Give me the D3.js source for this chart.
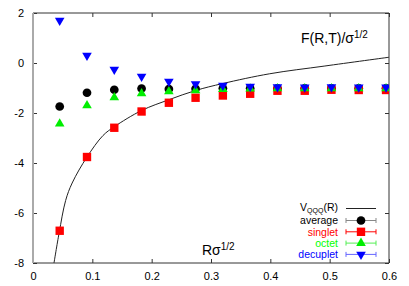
<!DOCTYPE html>
<html lang="en">
<head>
  <meta charset="UTF-8">
  <title>F(R,T) channels</title>
  <script src="https://d3js.org/d3.v7.min.js"></script>
  <style>
    body { margin: 0; background: #fff; font-family: "Liberation Sans", Arial, sans-serif; }
    svg { display: block; }
  </style>
</head>
<body>
  <svg id="chart" width="409" height="286"></svg>
  <script>
    // R sigma^1/2 positions of the measured points
    const rValues = [0.045, 0.091, 0.137, 0.183, 0.229, 0.274, 0.320, 0.366, 0.412, 0.458, 0.503, 0.549, 0.595];
    const average = [-1.74, -1.19, -1.07, -1.02, -1.04, -1.03, -1.01, -1.01, -1.01, -1.01, -1.01, -1.01, -1.01];
    const singlet = [-6.71, -3.76, -2.59, -1.94, -1.59, -1.39, -1.30, -1.23, -1.11, -1.11, -1.07, -1.08, -1.08];
    const octet = [-2.43, -1.70, -1.38, -1.22, -1.14, -1.10, -1.05, -1.03, -1.02, -1.02, -1.02, -1.02, -1.02];
    const decuplet = [1.70, 0.30, -0.26, -0.54, -0.74, -0.84, -0.90, -0.94, -0.96, -0.97, -0.96, -0.97, -0.97];

    // V_QQQ(R) curve
    const curveR = [0.0354, 0.044, 0.055, 0.066, 0.091, 0.118, 0.137, 0.183, 0.229, 0.274, 0.320, 0.399, 0.492, 0.600];
    const curveV = [-8.0, -6.8, -5.5, -4.8, -3.76, -2.9, -2.55, -1.9, -1.47, -1.1, -0.82, -0.43, -0.12, 0.23];

    const xTicks = [0, 0.1, 0.2, 0.3, 0.4, 0.5, 0.6];
    const yTicks = [2, 0, -2, -4, -6, -8];

    const svg = d3.select("#chart");
    const margin = { top: 13, right: 20, bottom: 23, left: 33 };
    const W = 409, H = 286;
    const x = d3.scaleLinear().domain([0, 0.6]).range([margin.left, W - margin.right]);
    const y = d3.scaleLinear().domain([-8, 2]).range([H - margin.bottom, margin.top]);

    const frame = "#333";

    // axes with inward ticks
    const gx = svg.append("g").attr("transform", `translate(0,${y(-8)})`)
      .call(d3.axisBottom(x).tickValues(xTicks).tickSize(-4).tickPadding(9).tickFormat(d => d));
    const gxt = svg.append("g").attr("transform", `translate(0,${y(2)})`)
      .call(d3.axisTop(x).tickValues(xTicks).tickSize(-4).tickFormat(""));
    const gy = svg.append("g").attr("transform", `translate(${x(0)},0)`)
      .call(d3.axisLeft(y).tickValues(yTicks).tickSize(-4).tickPadding(9).tickFormat(d => d));
    const gyr = svg.append("g").attr("transform", `translate(${x(0.6)},0)`)
      .call(d3.axisRight(y).tickValues(yTicks).tickSize(-4).tickFormat(""));

    [gx, gxt, gy, gyr].forEach(g => {
      g.select(".domain").remove();
      g.selectAll(".tick line").attr("stroke", frame);
      g.selectAll("text").attr("font-size", 11).attr("fill", "#000")
        .attr("font-family", "'Liberation Sans', Arial, sans-serif");
    });

    // frame lines
    svg.append("line").attr("x1", x(0)).attr("x2", x(0.6)).attr("y1", y(2)).attr("y2", y(2)).attr("stroke", frame);
    svg.append("line").attr("x1", x(0)).attr("x2", x(0.6)).attr("y1", y(-8)).attr("y2", y(-8)).attr("stroke", frame);
    svg.append("line").attr("x1", x(0.6)).attr("x2", x(0.6)).attr("y1", y(2)).attr("y2", y(-8)).attr("stroke", frame);
    svg.append("line").attr("x1", x(0)).attr("x2", x(0)).attr("y1", y(2)).attr("y2", y(-8))
      .attr("stroke", "#aaa").attr("stroke-width", 2);

    // clip to plot area
    svg.append("clipPath").attr("id", "clip").append("rect")
      .attr("x", x(0)).attr("y", y(2)).attr("width", x(0.6) - x(0)).attr("height", y(-8) - y(2));
    const plot = svg.append("g").attr("clip-path", "url(#clip)");

    const curveData = curveR.map((r, i) => ({ r: r, v: curveV[i] }));
    plot.append("path").datum(curveData)
      .attr("fill", "none").attr("stroke", "#222").attr("stroke-width", 1)
      .attr("d", d3.line().x(d => x(d.r)).y(d => y(d.v)).curve(d3.curveCatmullRom));

    const series = [
      { name: "average", vals: average, color: "#000", text: "#000", bar: "#888", sym: d3.symbolCircle, size: 60 },
      { name: "singlet", vals: singlet, color: "#ff0000", text: "#ff0000", bar: "#ff0000", sym: d3.symbolSquare, size: 70 },
      { name: "octet", vals: octet, color: "#00ee00", text: "#00ff00", bar: "#55ee55", sym: d3.symbolTriangle, size: 40 },
      { name: "decuplet", vals: decuplet, color: "#0000ff", text: "#0000ff", bar: "#6666ff", sym: "down", size: 40 }
    ];

    function drawSym(g, s, px, py) {
      if (s.sym === "down") {
        g.append("path").attr("d", d3.symbol(d3.symbolTriangle, s.size)())
          .attr("transform", `translate(${px},${py}) rotate(180)`).attr("fill", s.color);
      } else {
        g.append("path").attr("d", d3.symbol(s.sym, s.size)())
          .attr("transform", `translate(${px},${py})`).attr("fill", s.color);
      }
    }

    series.forEach(s => {
      s.vals.forEach((v, i) => drawSym(plot, s, x(rValues[i]), y(v)));
    });

    // labels
    svg.append("text").attr("x", 301).attr("y", 43).attr("font-size", 14)
      .html('F(R,T)/σ<tspan dy="-5" font-size="10">1/2</tspan>');
    svg.append("text").attr("x", 202).attr("y", 255).attr("font-size", 14)
      .html('Rσ<tspan dy="-5" font-size="10">1/2</tspan>');

    // legend
    const legX = 338, lineX1 = 346, lineX2 = 376;
    const vq = svg.append("text").attr("x", legX).attr("y", 211).attr("text-anchor", "end").attr("font-size", 10.5);
    vq.append("tspan").text("V");
    vq.append("tspan").attr("dy", 2).attr("font-size", 7).text("QQQ");
    vq.append("tspan").attr("dy", -2).text("(R)");
    svg.append("line").attr("x1", lineX1).attr("x2", lineX2).attr("y1", 208.5).attr("y2", 208.5).attr("stroke", "#222");

    series.forEach((s, i) => {
      const ly = 220.5 + i * 11.3;
      svg.append("text").attr("x", legX).attr("y", ly + 3.8).attr("text-anchor", "end")
        .attr("font-size", 10.5).attr("fill", s.text).text(s.name);
      svg.append("line").attr("x1", lineX1).attr("x2", lineX2).attr("y1", ly).attr("y2", ly).attr("stroke", s.bar);
      [lineX1, lineX2].forEach(cx => svg.append("line").attr("x1", cx).attr("x2", cx)
        .attr("y1", ly - 2.5).attr("y2", ly + 2.5).attr("stroke", s.bar));
      drawSym(svg, s, 361, ly);
    });
  </script>
</body>
</html>
